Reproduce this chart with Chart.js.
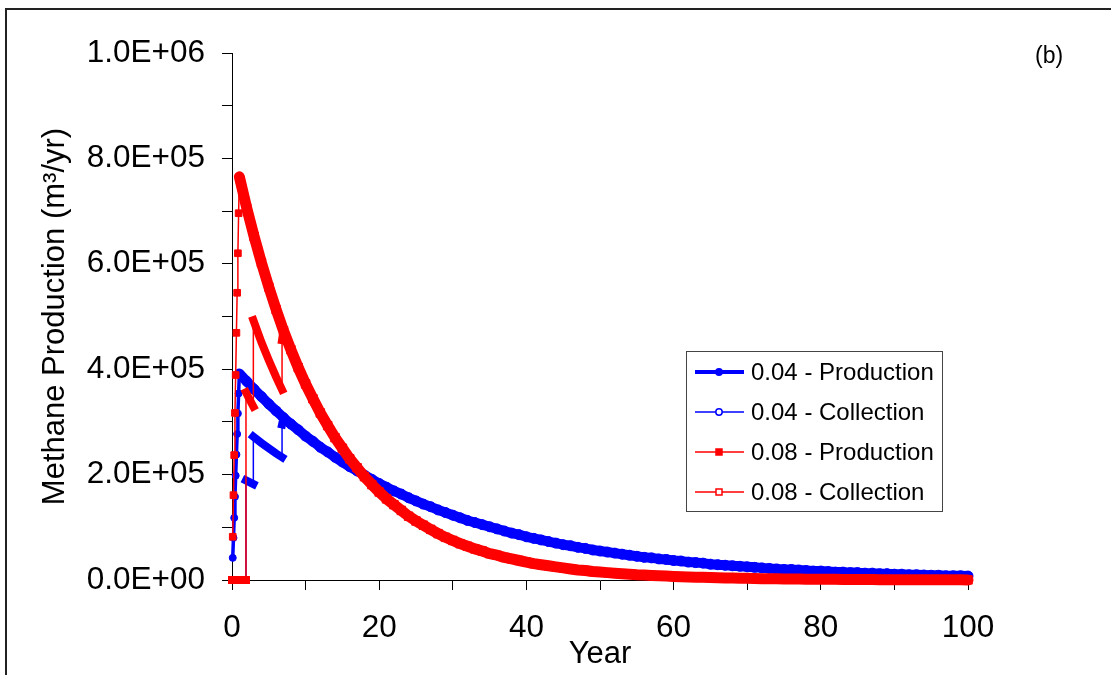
<!DOCTYPE html>
<html>
<head>
<meta charset="utf-8">
<script src="https://cdn.jsdelivr.net/npm/chart.js@4.4.1/dist/chart.umd.min.js"></script>
<style>
    html, body { margin: 0; padding: 0; background: #fff; }
    #wrap { position: relative; width: 1111px; height: 675px; overflow: hidden; }
    #frame { position: absolute; left: 5px; top: 8px; width: 1300px; height: 900px;
             border-left: 2px solid #222; border-top: 2px solid #222; }
    canvas { position: absolute; left: 0; top: 0; }
    #panel { position: absolute; left: 1035px; top: 44px; font: 23px "Liberation Sans", Arial, sans-serif; line-height: 1; }
</style>
</head>
<body>
<div id="wrap">
    <div id="frame"></div>
    <canvas id="methane" width="1111" height="675"></canvas>
    <div id="panel">(b)</div>
</div>
<script>
// years of the filling phase (0.1 yr steps) and of the decay phase (yearly)
const fillYears = [0.1, 0.2, 0.3, 0.4, 0.5, 0.6, 0.7, 0.8, 0.9, 1.0];
const decayYears = Array.from({ length: 99 }, (_, i) => i + 2); // 2 .. 100

// methane production, thousand m3/yr
const prod04Fill = [42, 80, 118, 158, 198, 238, 277, 316, 354, 392];
const prod04 = [
    377, 362, 348, 334, 321, 308, 296, 285, 273,
    263, 252, 243, 233, 224, 215, 207, 199, 191, 183,
    176, 169, 163, 156, 150, 144, 139, 133, 128, 123,
    118, 113, 109, 105, 101, 97, 93, 89, 86, 82,
    79, 76, 73, 70, 67, 65, 62, 60, 57, 55,
    53, 51, 49, 47, 45, 43, 42, 40, 39, 37,
    36, 34, 33, 32, 30, 29, 28, 27, 26, 25,
    24, 23, 22, 21, 20, 20, 19, 18, 17, 17,
    16, 15, 15, 14, 14, 13, 13, 12, 12, 11,
    11, 10, 10, 9.5, 9, 9, 8, 8, 8, 7.5
];
const prod08Fill = [82, 161, 237, 317, 389, 469, 545, 620, 696, 765];
const prod08 = [
    706, 652, 602, 556, 513, 473, 437, 403, 372,
    344, 317, 293, 270, 250, 230, 213, 196, 181, 167,
    154, 143, 132, 121, 112, 104, 96, 88, 81, 75,
    69, 64, 59, 55, 50, 47, 43, 40, 37, 34,
    31, 29, 27, 25, 23, 21, 19, 18, 16, 15,
    14, 13, 12, 11, 10, 9.4, 8.7, 8.0, 7.4, 6.8,
    6.3, 5.8, 5.4, 5.0, 4.6, 4.2, 3.9, 3.6, 3.3, 3.1,
    2.8, 2.6, 2.4, 2.2, 2.1, 1.9, 1.8, 1.6, 1.5, 1.4,
    1.3, 1.2, 1.1, 1.0, 0.9, 0.8, 0.8, 0.7, 0.6, 0.6,
    0.5, 0.5, 0.4, 0.4, 0.4, 0.3, 0.3, 0.3, 0.3, 0.2
];

// collection before full coverage (after year 7 it follows production)
const coll04Years = [0, 1.9, 1.9, 2.9, 2.9, 4, 5, 6, 6.8, 6.8];
const coll04 = [0, 0, 189, 182, 272, 260, 250, 240, 233, 295];
const coll08Years = [0, 1.9, 1.9, 2.4, 2.9, 2.9, 4, 5, 6, 6.8, 6.8];
const coll08 = [0, 0, 356, 342, 329, 493, 451, 417, 385, 361, 455];

const xTickLabels = ['0', '', '20', '', '40', '', '60', '', '80', '', '100'];
const yTickLabels = ['0.0E+00', '', '2.0E+05', '', '4.0E+05', '', '6.0E+05', '', '8.0E+05', '', '1.0E+06'];

const FONT = '"Liberation Sans", Arial, sans-serif';
const BLUE = '#0000FF';
const RED = '#FF0000';

function points(xs, ys) {
    return xs.map((x, i) => ({ x: x, y: ys[i] * 1000 }));
}

const prod04Data = points(fillYears.concat(decayYears), prod04Fill.concat(prod04));
const prod08Data = points(fillYears.concat(decayYears), prod08Fill.concat(prod08));
const coll04Data = points(coll04Years.concat(decayYears.slice(5)), coll04.concat(prod04.slice(5)));
const coll08Data = points(coll08Years.concat(decayYears.slice(5)), coll08.concat(prod08.slice(5)));

// jumps (same year twice) are thin, the rest is the dense-marker band
function collWidth(ctx) {
    const data = ctx.chart.data.datasets[ctx.datasetIndex].data;
    return data[ctx.p0DataIndex].x === data[ctx.p1DataIndex].x ? 1.5 : 8;
}

const legendPlugin = {
    id: 'boxLegend',
    afterDraw(chart) {
        const ctx = chart.ctx;
        const items = [
            { ds: 0, line: 4, shape: 'circle', filled: true },
            { ds: 1, line: 1.5, shape: 'circle', filled: false },
            { ds: 2, line: 1.5, shape: 'rect', filled: true },
            { ds: 3, line: 1.5, shape: 'rect', filled: false }
        ];
        ctx.save();
        ctx.fillStyle = '#fff';
        ctx.fillRect(686, 351, 256, 160);
        ctx.strokeStyle = '#444';
        ctx.lineWidth = 1;
        ctx.strokeRect(686.5, 351.5, 256, 160);
        items.forEach((item, i) => {
            const ds = chart.data.datasets[item.ds];
            const y = 372 + i * 40;
            ctx.strokeStyle = ds.borderColor;
            ctx.lineWidth = item.line;
            ctx.beginPath();
            ctx.moveTo(695, y);
            ctx.lineTo(744, y);
            ctx.stroke();
            ctx.lineWidth = 1.5;
            ctx.fillStyle = item.filled ? ds.borderColor : '#fff';
            ctx.beginPath();
            if (item.shape === 'circle') {
                ctx.arc(719, y, 3.2, 0, Math.PI * 2);
            } else {
                ctx.rect(716, y - 3, 6, 6);
            }
            ctx.fill();
            ctx.stroke();
            ctx.fillStyle = '#000';
            ctx.font = '24px ' + FONT;
            ctx.textBaseline = 'middle';
            ctx.textAlign = 'left';
            ctx.fillText(ds.label, 751, y + 1);
        });
        ctx.restore();
    }
};

const ctx = document.getElementById('methane').getContext('2d');
const chart = new Chart(ctx, {
    type: 'line',
    data: {
        datasets: [{
            label: '0.04 - Production',
            data: prod04Data,
            borderColor: BLUE,
            backgroundColor: BLUE,
            pointStyle: 'circle',
            pointRadius: c => c.dataIndex < 10 ? 3.5 : 5,
            pointBorderWidth: 1,
            borderCapStyle: 'round',
            borderJoinStyle: 'round',
            segment: { borderWidth: c => c.p0DataIndex < 9 ? 3.5 : 10 },
            order: 2,
            clip: false
        }, {
            label: '0.04 - Collection',
            data: coll04Data,
            borderColor: BLUE,
            backgroundColor: '#fff',
            pointRadius: 0,
            borderCapStyle: 'square',
            segment: { borderWidth: collWidth },
            order: 3,
            clip: false
        }, {
            label: '0.08 - Production',
            data: prod08Data,
            borderColor: RED,
            backgroundColor: RED,
            pointStyle: 'rect',
            pointRadius: c => c.dataIndex < 10 ? 4.7 : 6,
            pointBorderWidth: 1,
            borderCapStyle: 'round',
            borderJoinStyle: 'round',
            segment: { borderWidth: c => c.p0DataIndex < 9 ? 1.5 : 11 },
            order: 0,
            clip: false
        }, {
            label: '0.08 - Collection',
            data: coll08Data,
            borderColor: RED,
            backgroundColor: '#fff',
            pointRadius: 0,
            borderCapStyle: 'square',
            segment: { borderWidth: collWidth },
            order: 1,
            clip: false
        }]
    },
    options: {
        responsive: false,
        animation: false,
        events: [],
        layout: { padding: { left: 0, top: 53, right: 143, bottom: 0 } },
        elements: { line: { tension: 0 } },
        plugins: {
            legend: { display: false },
            tooltip: { enabled: false }
        },
        scales: {
            x: {
                type: 'linear',
                min: 0,
                max: 100,
                afterFit: s => { s.height = 95; },
                border: { display: true, color: '#000', width: 1 },
                grid: { drawOnChartArea: false, drawTicks: true, tickLength: 10, color: '#000' },
                ticks: {
                    stepSize: 10,
                    autoSkip: false,
                    maxRotation: 0,
                    padding: 19,
                    color: '#000',
                    font: { family: FONT, size: 31.5 },
                    callback: (v, i) => xTickLabels[i]
                },
                title: {
                    display: true,
                    text: 'Year',
                    color: '#000',
                    font: { family: FONT, size: 31 },
                    padding: { top: 0, bottom: 2 }
                }
            },
            y: {
                min: 0,
                max: 1000000,
                afterFit: s => { s.width = 232; },
                border: { display: true, color: '#000', width: 1 },
                grid: { drawOnChartArea: false, drawTicks: true, tickLength: 10, color: '#000' },
                ticks: {
                    stepSize: 100000,
                    autoSkip: false,
                    padding: 17,
                    color: '#000',
                    font: { family: FONT, size: 31.5 },
                    callback: (v, i) => yTickLabels[i]
                },
                title: {
                    display: true,
                    text: 'Methane Production (m³/yr)',
                    color: '#000',
                    font: { family: FONT, size: 31 },
                    padding: { top: 37, bottom: 0 }
                }
            }
        }
    },
    plugins: [legendPlugin]
});
</script>
</body>
</html>
